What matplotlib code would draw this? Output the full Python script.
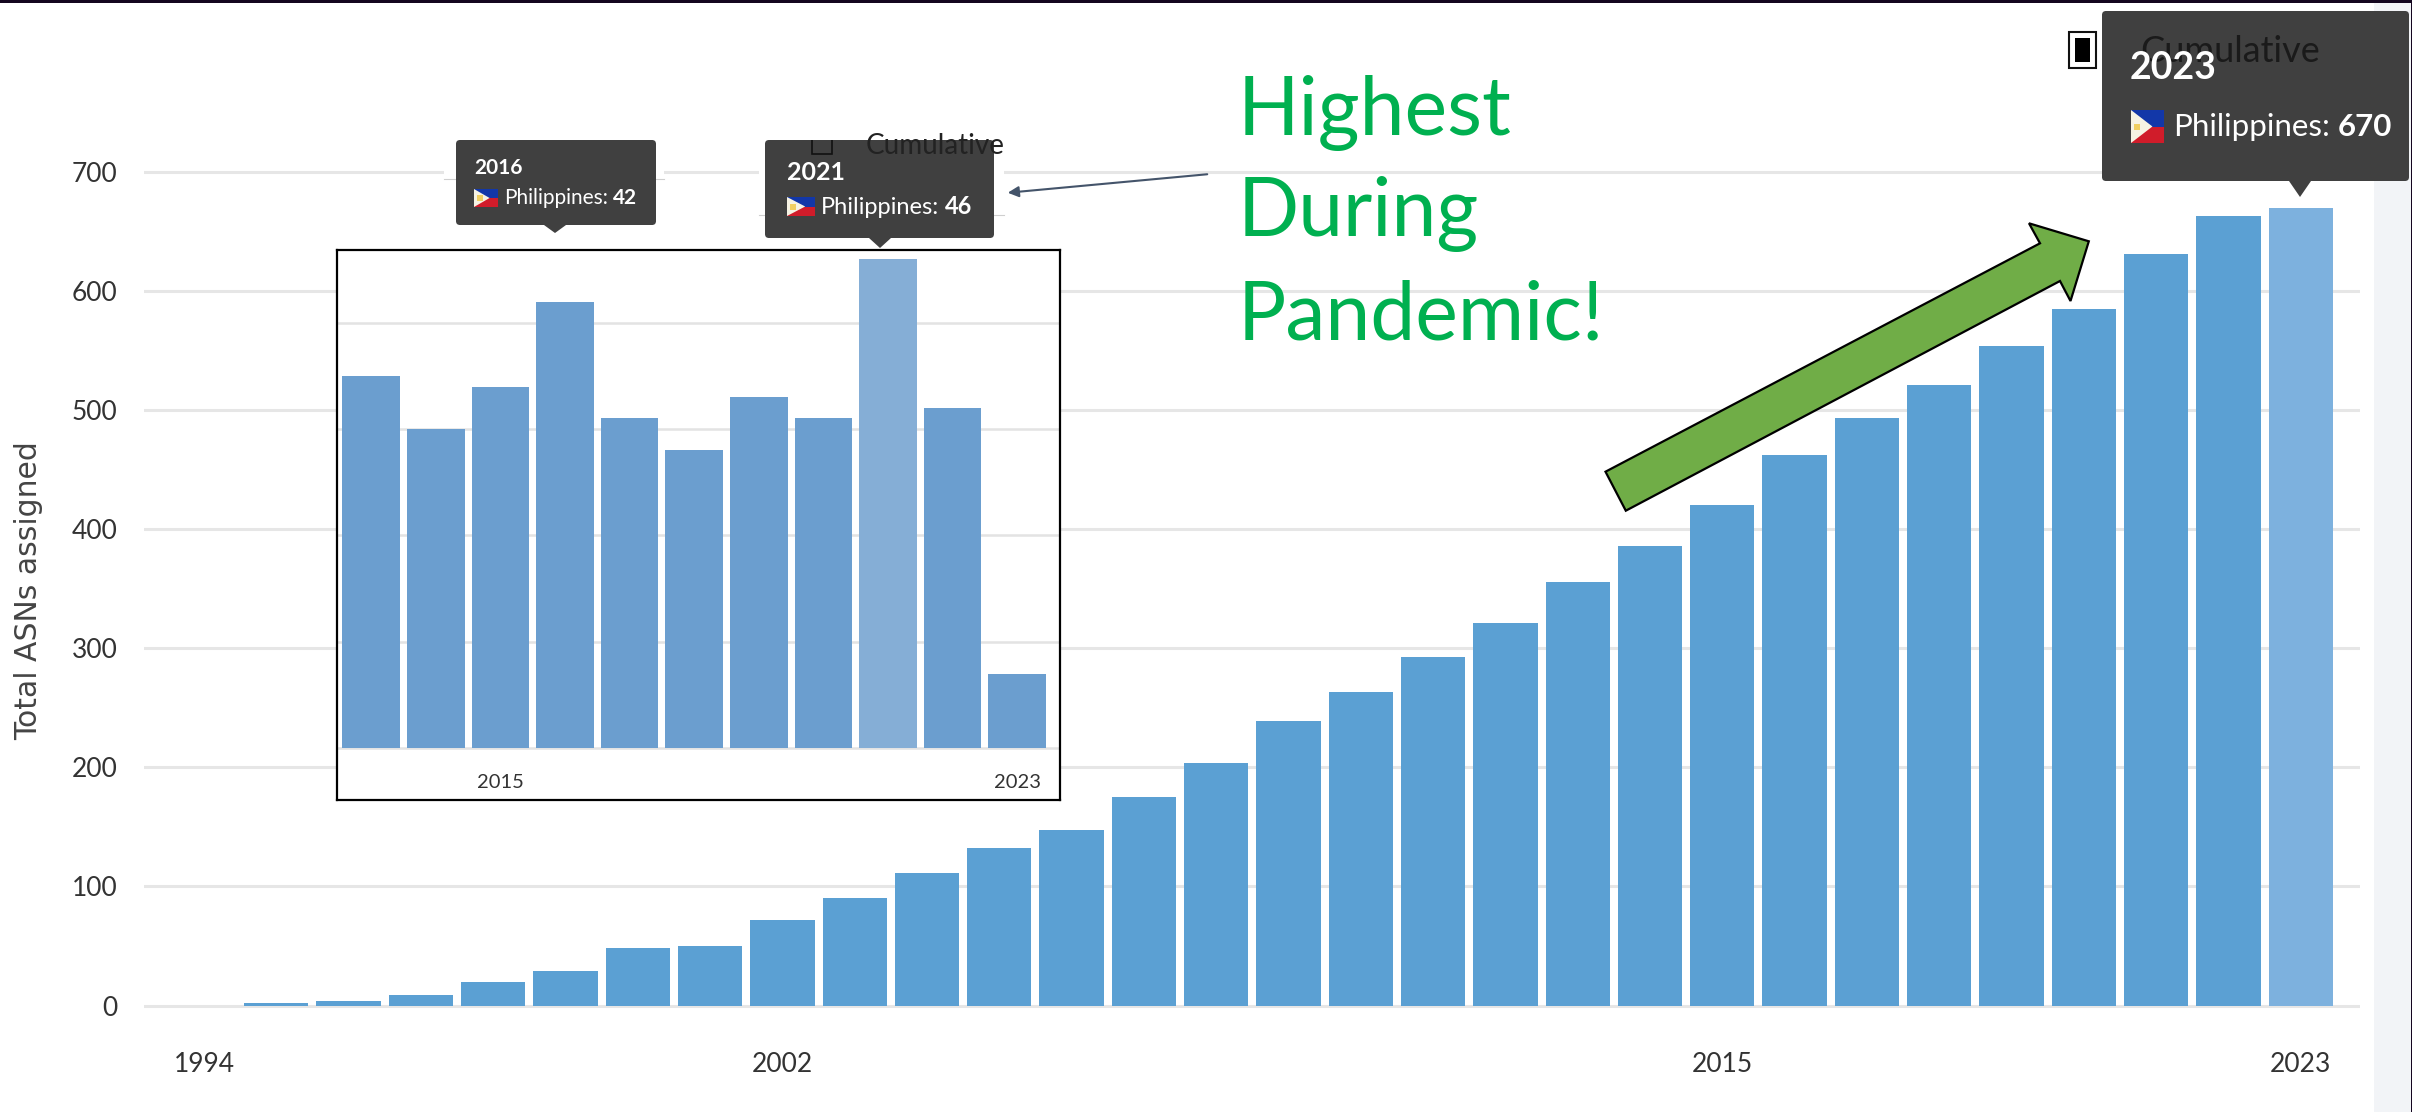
import matplotlib
matplotlib.use("Agg")
import matplotlib.pyplot as plt
from matplotlib.patches import FancyBboxPatch, Polygon, Rectangle

years = list(range(1994, 2024))
total_asns = [0, 2, 4, 9, 20, 29, 48, 50, 72, 90, 111, 132, 147, 175, 204, 239,
              263, 293, 321, 356, 386, 420, 462, 493, 521, 554, 585, 631, 663, 670]
y_ticks = [0, 100, 200, 300, 400, 500, 600, 700]
x_tick_years = [1994, 2002, 2015, 2023]

inset_years = list(range(2013, 2024))
inset_asns = [35, 30, 34, 42, 31, 28, 33, 31, 46, 32, 7]
inset_grid = [0, 10, 20, 30, 40]
inset_tick_years = [2015, 2023]

W, H = 2412, 1112
LABEL_FONT = ["Lato", "DejaVu Sans"]


def axes_px(left, top, right, bottom):
    return fig.add_axes([left / W, 1 - bottom / H, (right - left) / W, (bottom - top) / H])


def flag(x0, y0, x1, y1):
    ymid = (y0 + y1) / 2
    over.add_patch(Rectangle((x0, y0), x1 - x0, ymid - y0, fc="#1237a8", ec="none", zorder=6))
    over.add_patch(Rectangle((x0, ymid), x1 - x0, y1 - ymid, fc="#d01c2a", ec="none", zorder=6))
    over.add_patch(Polygon([(x0, y0), (x0 + (x1 - x0) * 0.65, ymid), (x0, y1)], fc="#f6f3e4", ec="none", zorder=6))
    over.add_patch(Rectangle((x0 + 3, ymid - 3), 6, 6, fc="#f0cf62", ec="none", zorder=6))


def tooltip(x0, y0, x1, y1, tip_x, tip_y, year, value, year_size, text_size,
            year_x, year_y, flag_box, text_x, text_y):
    over.add_patch(FancyBboxPatch((x0, y0), x1 - x0, y1 - y0, boxstyle="round,pad=0,rounding_size=4",
                                  fc="#404040", ec="none", zorder=5))
    over.add_patch(Polygon([(tip_x - 11, y1), (tip_x + 11, y1), (tip_x, tip_y)], fc="#404040", ec="none", zorder=5))
    over.text(year_x, year_y, year, color="white", fontsize=year_size, fontweight="bold",
              family=LABEL_FONT, va="center", zorder=7)
    flag(*flag_box)
    label = over.text(text_x, text_y, "Philippines:", color="white", fontsize=text_size,
                      family=LABEL_FONT, va="center", zorder=7)
    fig.canvas.draw()
    end = label.get_window_extent().x1 + text_size * 0.35
    over.text(end, text_y, value, color="white", fontsize=text_size, fontweight="bold",
              family=LABEL_FONT, va="center", zorder=7)


fig = plt.figure(figsize=(W / 100, H / 100), dpi=100, facecolor="white")

# main chart
ax = axes_px(144, 100, 2360, 1030)
px_per_year = 72.3
x_first = 204
ax.set_xlim(1994 + (144 - x_first) / px_per_year, 1994 + (2360 - x_first) / px_per_year)
px_per_asn = 119.1 / 100
ax.set_ylim(-(1030 - 1005.5) / px_per_asn, (1005.5 - 100) / px_per_asn)
colors = ["#5ba0d3"] * 29 + ["#7db1de"]
ax.bar(years, total_asns, width=0.89, color=colors, zorder=3)
ax.set_yticks(y_ticks)
ax.set_xticks(x_tick_years)
ax.grid(axis="y", color="#e6e6e6", linewidth=2.2, zorder=1)
ax.tick_params(axis="both", length=0, labelsize=19, labelcolor="#333333")
ax.tick_params(axis="y", pad=19)
ax.tick_params(axis="x", pad=16)
for lab in ax.get_xticklabels() + ax.get_yticklabels():
    lab.set_family(LABEL_FONT)
for s in ax.spines.values():
    s.set_visible(False)
ax.patch.set_alpha(0)

# everything pasted on top, in pixels of the picture
over = fig.add_axes([0, 0, 1, 1], zorder=2)
over.set_xlim(0, W)
over.set_ylim(H, 0)
over.axis("off")

over.add_patch(Rectangle((2374, 0), 38, H, fc="#f2f4f7", ec="none", zorder=0))
over.add_patch(Rectangle((0, 0), W, 3, fc="#14061f", ec="none", zorder=9))
over.add_patch(Rectangle((W - 1.5, 0), 1.5, H, fc="#14061f", ec="none", zorder=9))

over.text(29, 591, "Total ASNs assigned", rotation=90, fontsize=21.5, color="#444444",
          family="DejaVu Sans", ha="center", va="center")

# white backing of the pasted tooltips
over.add_patch(Rectangle((444, 130), 220, 110, fc="white", ec="none", zorder=1))
over.add_patch(Rectangle((759, 130), 245, 118, fc="white", ec="none", zorder=1))
over.plot([444, 664], [179, 179], color="#cfcfcf", lw=0.8, zorder=2)
over.plot([759, 1004], [215, 215], color="#cfcfcf", lw=0.8, zorder=2)

tooltip(456, 140, 656, 225, 555, 233, "2016", "42", 15, 15, 474, 168, (474, 189, 498, 207), 504, 198)
tooltip(765, 140, 994, 238, 880, 248, "2021", "46", 18, 17, 787, 172, (787, 197, 815, 216), 821, 207)
tooltip(2102, 11, 2409, 181, 2300, 197, "2023", "670", 27, 22.5, 2130, 68, (2131, 110, 2164, 143), 2173, 127)

# stray legend boxes
clip = Rectangle((760, 140), 300, 30, transform=over.transData)
small_box = Rectangle((812, 133), 20, 21, fc="none", ec="#111111", lw=1.2, zorder=8)
over.add_patch(small_box)
small_box.set_clip_path(clip)
small_text = over.text(866, 146, "Cumulative", fontsize=20, color="#222222", family=LABEL_FONT, va="center", zorder=8)
small_text.set_clip_path(clip)
over.add_patch(Rectangle((2069, 32), 27, 36, fc="white", ec="#111111", lw=1.5, zorder=4))
over.add_patch(Rectangle((2075, 38), 15, 24, fc="black", ec="none", zorder=4))
over.text(2140, 52, "Cumulative", fontsize=26, color="#1a1a1a", family=LABEL_FONT, va="center", zorder=6)

# call-outs
over.annotate("", xy=(1005, 193), xytext=(1210, 174),
              arrowprops=dict(arrowstyle="-|>", color="#44546a", lw=1.5, mutation_scale=16), zorder=8)
for y_pos, word in zip([113, 214, 317], ["Highest", "During", "Pandemic!"]):
    over.text(1238, y_pos, word, color="#00b050", fontsize=58, family=LABEL_FONT, va="center", zorder=8)
over.add_patch(Polygon([(1605.5, 471.7), (2040, 243.3), (2029, 223.3), (2088.8, 241.3),
                        (2070.5, 301), (2060, 281), (1625.8, 510.7)],
                       closed=True, fc="#70ad47", ec="black", lw=1.6, zorder=8))

# inset picture
ins = axes_px(337, 250, 1060, 800)
ins.set_zorder(3)
ins_px = 64.6
ins.set_xlim(2016 + (337 - 565) / ins_px, 2016 + (1060 - 565) / ins_px)
unit = 10.63
ins.set_ylim(-(800 - 748) / unit, (748 - 250) / unit)
ins_colors = ["#6b9ecf"] * 8 + ["#85aed6"] + ["#6b9ecf"] * 2
ins.bar(inset_years, inset_asns, width=0.89, color=ins_colors, zorder=3)
ins.set_yticks(inset_grid)
ins.set_yticklabels([])
ins.set_xticks(inset_tick_years)
ins.grid(axis="y", color="#e3e3e3", linewidth=1.8, zorder=1)
ins.tick_params(axis="both", length=0)
ins.tick_params(axis="x", direction="in", pad=-19, labelsize=14.5, labelcolor="#333333")
for lab in ins.get_xticklabels():
    lab.set_family(LABEL_FONT)
for s in ins.spines.values():
    s.set_linewidth(1.6)
    s.set_color("black")

fig.savefig("out.png", dpi=100)
